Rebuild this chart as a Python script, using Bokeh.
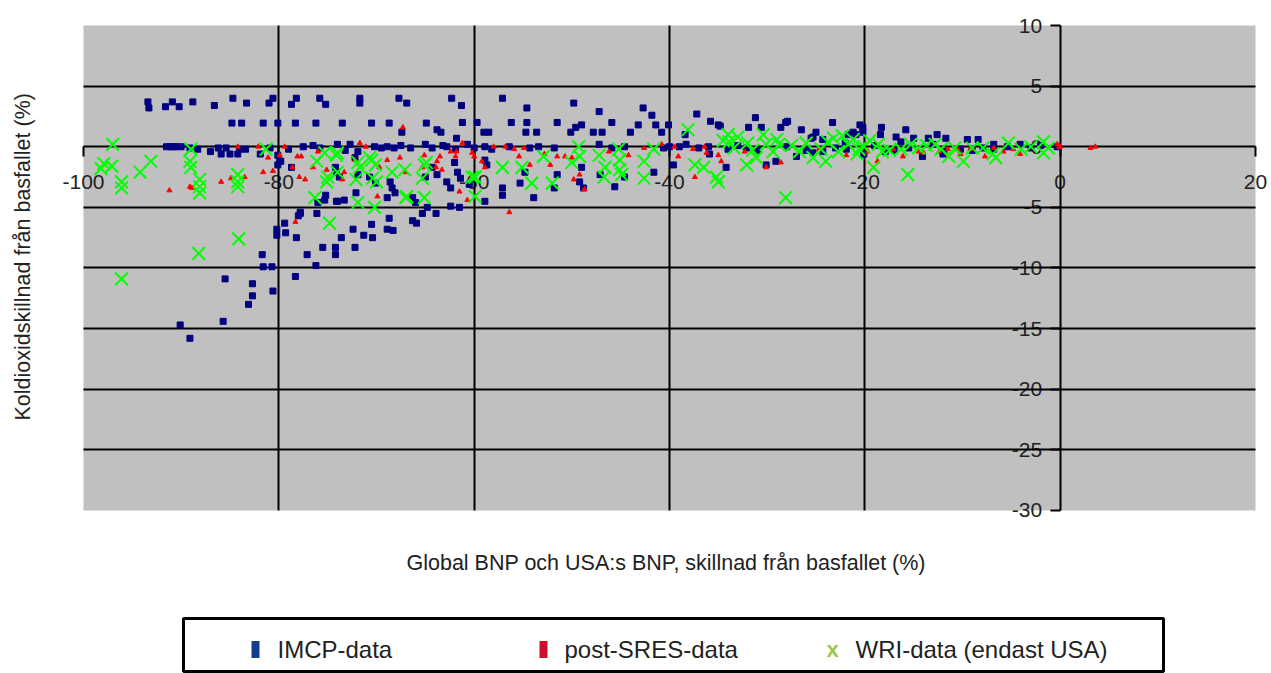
from bokeh.plotting import figure
from bokeh.models import LinearAxis, FixedTicker, Title, ColumnDataSource, Range1d, BoxAnnotation
from bokeh.layouts import column
from bokeh.embed import file_html
from bokeh.resources import INLINE
from bokeh.core.properties import value

# ---------------- data ----------------
imcp_points = [
    (-93.4, 3.7), (-93.3, 3.2), (-91.6, 3.3), (-90.9, 3.7), (-90.2, 3.3), (-88.8, 3.7), (-86.6, 3.4),
    (-84.7, 4.0), (-83.3, 3.6), (-81.0, 3.6), (-80.6, 4.0), (-78.7, 3.5), (-78.2, 4.0), (-75.8, 4.0),
    (-75.2, 3.5), (-71.7, 4.0), (-71.7, 3.6), (-67.7, 4.0), (-66.9, 3.6), (-62.3, 4.0), (-61.3, 3.4),
    (-84.8, 1.95), (-83.8, 1.95), (-81.6, 1.95), (-80.1, 1.95), (-78.3, 1.95), (-76.2, 1.95), (-73.5, 1.95),
    (-70.5, 1.95), (-68.7, 1.95), (-64.9, 1.95), (-67.4, 1.2), (-63.8, 1.4), (-63.4, 1.2), (-61.8, 0.7),
    (-59.7, 2.0), (-57.1, 4.0), (-54.6, 3.2), (-49.8, 3.6), (-47.2, 2.9), (-42.7, 3.2), (-41.8, 2.6),
    (-37.2, 2.7), (-35.8, 2.1), (-31.2, 2.4), (-27.9, 2.1), (-23.3, 2.0), (-20.5, 1.8),
    (-61.2, 2.0), (-59.0, 1.2), (-58.5, 1.2), (-56.2, 2.0), (-54.6, 2.0), (-54.7, 1.2), (-53.6, 1.2),
    (-51.5, 2.0), (-50.1, 1.2), (-49.6, 1.6), (-49.0, 1.8), (-47.8, 1.2), (-46.9, 1.2), (-45.9, 2.0),
    (-44.0, 1.2), (-43.2, 1.8), (-41.4, 1.8), (-40.8, 1.2), (-40.1, 1.8), (-38.4, 1.0), (-34.8, 1.7),
    (-31.9, 1.6), (-30.6, 1.6), (-28.6, 1.6), (-26.5, 1.4), (-25.0, 1.2), (-25.5, 0.7), (-24.3, 0.6),
    (-21.7, 1.0), (-21.2, 1.2), (-20.2, 1.2), (-35.0, 1.8), (-28.1, 2.0), (-25.3, 0.8), (-20.9, 1.0),
    (-20.2, 1.6), (-18.3, 1.6), (-18.4, 1.0), (-16.8, 0.8), (-15.8, 1.4), (-16.3, 0.4), (-15.0, 0.7),
    (-13.5, 0.7), (-12.6, 1.0), (-11.7, 0.7), (-9.5, 0.6), (-8.4, 0.6), (-6.8, 0.2), (-5.4, 0.0),
    (-4.1, 0.2), (-0.3, 0.0),
    (-91.5, 0.0), (-90.8, 0.0), (-90.0, 0.0), (-91.1, 0.0), (-90.5, 0.0), (-89.1, -0.1), (-88.3, -0.2),
    (-87.0, -0.4), (-86.2, -0.1), (-85.9, -0.6), (-85.4, -0.1), (-85.0, -0.6), (-84.2, -0.6), (-84.0, -0.2),
    (-83.4, -0.2), (-81.9, -0.6), (-80.9, -0.1), (-80.1, -1.5), (-79.8, -1.2),
    (-79.0, -0.2), (-77.5, 0.0), (-76.5, 0.1), (-75.8, -0.1), (-73.2, -0.3), (-69.5, -0.1), (-67.5, 0.1),
    (-63.2, 0.1), (-60.0, -0.1),
    (-74.0, 0.2), (-72.7, 0.2), (-71.9, -0.4), (-70.2, 0.0), (-68.9, 0.0), (-68.2, -0.1), (-66.5, -0.1),
    (-65.0, 0.2), (-64.3, -0.1), (-62.8, 0.0), (-61.9, -0.2), (-60.7, 0.2),
    (-74.2, -1.7), (-73.8, -2.5), (-72.2, -0.9), (-71.9, -2.3), (-72.1, -3.8), (-73.3, -4.4), (-74.0, -4.5),
    (-75.2, -4.0), (-75.3, -4.4), (-70.7, -2.5), (-70.1, -3.0), (-68.6, -2.9), (-68.4, -3.4), (-68.1, -3.8),
    (-68.9, -4.2), (-65.0, -2.5), (-64.3, -1.7), (-63.8, -2.3), (-62.8, -2.9), (-62.4, -3.4), (-62.0, -1.3),
    (-61.7, -2.1), (-61.4, -2.6), (-60.5, -3.1), (-66.3, -4.2), (-66.0, -4.6), (-76.0, -4.6), (-80.1, -0.7),
    (-77.8, -5.4), (-78.7, -1.7), (-79.9, -1.2), (-74.1, -2.1),
    (-58.9, 0.0), (-58.2, -0.2), (-56.4, 0.0), (-54.3, -0.1), (-53.4, 0.0), (-51.8, -0.1), (-47.2, 0.2),
    (-45.9, -0.1), (-44.6, 0.0), (-40.6, -0.1), (-58.9, -1.1), (-58.7, -1.5), (-57.1, -3.4), (-57.1, -4.0),
    (-55.3, -3.0), (-54.8, -2.1), (-53.9, -4.2), (-51.5, -2.3), (-51.8, -3.4), (-49.2, -2.9), (-49.0, -1.7),
    (-48.8, -3.4), (-47.1, -2.3), (-45.6, -3.3), (-44.6, -2.5), (-41.6, -2.1), (-58.9, -4.5),
    (-40.0, 0.0), (-38.3, 0.2), (-37.0, -0.1), (-35.9, -0.6), (-39.6, -1.5), (-34.2, -1.7), (-32.1, -0.1),
    (-30.1, -1.5), (-29.1, -1.2), (-27.0, -0.8), (-25.3, -0.5), (-24.3, -0.4), (-21.9, -0.2),
    (-39.0, 0.0), (-36.0, 0.0), (-34.0, -0.2), (-33.0, 0.1), (-31.0, -0.3), (-28.0, 0.0), (-26.0, -0.3),
    (-23.0, -0.1), (-22.0, 0.3), (-19.0, 0.1), (-17.0, -0.3), (-15.5, -0.1), (-13.0, 0.2), (-12.0, -0.6),
    (-9.0, -0.3), (-3.0, -0.1), (-2.0, 0.1),
    (-20.1, -0.6), (-17.9, -0.4), (-14.1, -0.8), (-11.9, -0.4), (-10.2, -0.2), (-7.9, -0.1), (-6.8, -0.2),
    (-81.7, -8.9), (-81.6, -9.9), (-80.7, -9.9), (-85.5, -10.9), (-82.7, -11.3), (-82.7, -12.3), (-83.1, -13.0),
    (-80.6, -11.9), (-85.7, -14.4), (-90.1, -14.7), (-89.1, -15.8), (-78.3, -10.7), (-79.3, -7.1), (-79.4, -6.3),
    (-80.2, -6.8), (-80.2, -7.3), (-78.2, -7.5), (-77.1, -8.9), (-76.2, -9.8), (-76.1, -5.5), (-75.5, -8.3),
    (-74.2, -8.3), (-74.2, -8.9), (-73.6, -7.5), (-72.4, -6.8), (-72.2, -8.3), (-71.3, -7.3), (-70.5, -6.4),
    (-70.4, -7.5), (-68.7, -5.9), (-68.9, -6.8), (-68.3, -6.9), (-66.3, -6.1), (-65.9, -6.3), (-65.3, -5.5),
    (-64.8, -5.0), (-63.9, -5.5), (-62.4, -4.9), (-61.5, -5.0), (-78.0, -5.7), (-77.8, -5.5), (-74.1, -4.5),
]

post_sres_points = [
    (-84.2, 0.0), (-85.9, -2.9), (-91.2, -3.6), (-89.1, -3.3), (-83.5, -2.5), (-81.6, -2.1), (-80.6, -2.0),
    (-82.1, 0.0), (-81.1, -0.9), (-88.9, -3.4), (-84.9, -2.6), (-79.4, 0.0), (-77.7, -0.8), (-77.3, -2.7),
    (-76.5, -1.7), (-75.1, -1.9), (-73.5, -2.7), (-72.2, -1.1), (-71.7, 0.3), (-68.9, -1.1), (-67.3, 1.6),
    (-63.9, -1.7), (-63.3, -1.9), (-61.8, -0.4), (-61.2, 0.3), (-60.2, -0.5), (-60.2, -2.5),
    (-79.9, -0.7), (-78.1, -0.8), (-76.0, -0.4), (-78.6, -1.7), (-77.9, -2.5), (-73.3, -2.1), (-71.1, 0.0),
    (-69.7, -1.7), (-67.6, -0.9), (-67.0, -2.1), (-65.1, -0.7), (-63.8, -1.2), (-63.5, -0.8), (-62.4, -0.4),
    (-61.9, -0.8), (-61.5, -3.7), (-60.7, -4.4), (-65.3, -1.7), (-69.9, -4.1), (-78.3, -6.2),
    (-60.0, -0.8), (-59.2, -1.2), (-58.0, 0.0), (-56.8, 0.0), (-55.9, -0.2), (-54.9, -0.1), (-55.4, -0.8),
    (-54.3, -1.5), (-52.8, -0.6), (-52.2, -1.5), (-51.5, -0.8), (-50.7, -0.8), (-50.0, -0.9), (-49.2, -2.3),
    (-48.7, -3.5), (-46.2, -0.4), (-44.2, -0.7), (-42.6, -0.1), (-40.8, 0.2), (-56.4, -5.4), (-58.9, -1.7),
    (-49.8, -2.7),
    (-39.5, 0.0), (-39.1, -0.8), (-37.6, -0.2), (-36.4, 0.0), (-36.2, -0.5), (-35.0, -0.7), (-34.7, -1.2),
    (-37.4, -2.5), (-32.3, -0.4), (-30.1, -1.7), (-28.6, -1.3), (-24.7, -0.2), (-21.9, -0.7),
    (-19.7, -0.4), (-18.7, -1.2), (-17.1, -0.2), (-16.1, -0.8), (-14.5, -0.4), (-14.0, -0.5), (-12.4, -0.4),
    (-11.5, -0.2), (-10.5, -0.2), (-10.2, -0.6), (-9.2, -0.2), (-7.7, -0.8), (-6.8, -0.1), (-5.8, -0.4),
    (-4.8, -0.2), (-4.1, -0.6), (-0.3, 0.2), (0.0, 0.0), (3.6, 0.0), (3.1, -0.1), (-0.1, 0.0),
]

wri_points = [
    (-97.0, 0.2), (-97.9, -1.4), (-97.1, -1.6), (-98.2, -1.8), (-96.1, -2.9), (-96.1, -3.4), (-94.2, -2.1),
    (-93.1, -1.2), (-89.0, -0.2), (-89.1, -1.2), (-89.0, -1.7), (-88.1, -2.7), (-88.1, -3.3), (-88.1, -3.8),
    (-84.2, -2.3), (-84.2, -2.9), (-84.2, -3.3), (-81.3, -0.2),
    (-96.1, -10.9), (-88.2, -8.8), (-84.1, -7.6), (-74.8, -6.3),
    (-76.1, -1.2), (-75.3, -0.5), (-74.1, -0.7), (-75.0, -2.5), (-75.1, -2.9), (-76.3, -4.2), (-71.7, -1.7),
    (-70.5, -1.1), (-70.4, -2.6), (-70.0, -2.9), (-70.2, -5.0), (-71.9, -4.6), (-67.1, -1.9), (-66.9, -4.1),
    (-64.9, -1.3), (-65.3, -2.6), (-60.2, -2.5),
    (-74.0, -0.5), (-74.0, -2.1), (-71.9, -1.3), (-72.1, -2.7), (-70.7, -0.9), (-70.1, -1.5), (-68.4, -2.1),
    (-65.1, -1.5), (-65.1, -4.2), (-67.0, -4.2),
    (-59.9, -2.5), (-59.9, -4.1), (-57.1, -1.7), (-55.1, -1.7), (-54.1, -3.0), (-52.9, -0.8), (-52.0, -3.0),
    (-50.0, -1.3), (-49.3, 0.0), (-49.2, -0.8), (-47.2, -0.7), (-46.7, -2.5), (-46.6, -1.7), (-45.2, -0.2),
    (-45.1, -1.1), (-45.1, -1.9), (-44.9, -2.3), (-42.6, -1.2), (-42.6, -2.6), (-41.6, -0.2),
    (-38.1, 1.4), (-35.0, -2.9),
    (-37.4, -1.5), (-36.5, -1.7), (-35.2, -2.5), (-34.0, 1.0), (-33.9, 0.4), (-33.4, -0.1), (-32.1, -1.5),
    (-31.1, -0.9), (-30.4, 1.0), (-30.1, 0.2), (-29.4, -0.4), (-28.8, 0.2), (-28.1, -4.2), (-26.7, -0.4),
    (-25.3, -0.9), (-24.0, -1.2), (-23.2, 0.7), (-22.7, -0.4), (-21.7, 0.2), (-20.6, -0.2),
    (-34.5, 0.5), (-33.0, 0.8), (-32.0, 0.3), (-31.5, -0.3), (-29.0, 0.6), (-27.5, 0.1), (-26.0, 0.3),
    (-24.5, -0.2), (-23.8, 0.4), (-22.3, 0.9), (-21.2, 0.6), (-20.8, -0.6), (-19.5, 0.5), (-17.5, -0.3),
    (-14.5, -0.1), (-13.7, 0.1), (-10.8, -0.1), (-9.0, -0.1), (-4.0, -0.2), (-3.0, 0.0),
    (-20.1, 0.0), (-19.1, -1.7), (-18.6, 0.2), (-18.2, -0.4), (-16.3, -0.2), (-15.6, -2.3), (-15.3, 0.2),
    (-12.8, 0.2), (-12.2, -0.2), (-11.4, -0.8), (-9.9, -1.2), (-7.9, -0.1), (-6.9, -0.6), (-6.6, -0.9),
    (-5.3, 0.3), (-1.7, 0.4), (-1.7, -0.5), (-1.2, -0.1),
]

series_names = ["IMCP-data", "post-SRES-data", "WRI-data (endast USA)"]
x_ticks = [-100, -80, -60, -40, -20, 0, 20]
x_tick_labels = ["-100", "-80", "-60", "-40", "-20", "0", "20"]
y_ticks = [-30, -25, -20, -15, -10, -5, 0, 5, 10]
y_tick_labels = ["-30", "-25", "-20", "-15", "-10", "-5", "0", "5", "10"]
x_grid_ticks = [-80, -60, -40, -20]
y_grid_ticks = [-25, -20, -15, -10, -5, 5]
x_title = "Global BNP och USA:s BNP,  skillnad från basfallet (%)"
y_title = "Koldioxidskillnad från basfallet (%)"

X_MIN, X_MAX = -100, 20
Y_MIN, Y_MAX = -30, 10
FONT = "Liberation Sans"


def src(points):
    xs, ys = zip(*points)
    return ColumnDataSource(dict(x=list(xs), y=list(ys)))


# ---------------- main chart ----------------
# frame is a bit larger than the grey plot area, so that end tick labels are not clipped
p = figure(width=1271, height=615,
           x_range=Range1d(X_MIN - 3.99, X_MAX + 1.23), y_range=Range1d(Y_MIN - 0.91, Y_MAX + 0.99),
           x_axis_location=None, y_axis_location=None,
           output_backend="svg", toolbar_location=None,
           background_fill_color="white", border_fill_color="white",
           outline_line_color=None,
           min_border_left=44, min_border_right=4, min_border_top=13, min_border_bottom=94)

p.add_layout(BoxAnnotation(left=X_MIN, right=X_MAX, bottom=Y_MIN, top=Y_MAX,
                           fill_color="#c0c0c0", fill_alpha=1.0, line_color=None, level="image"))

p.xgrid.ticker = FixedTicker(ticks=x_grid_ticks)
p.ygrid.ticker = FixedTicker(ticks=y_grid_ticks)
p.xgrid.cross_bounds = (Y_MIN, Y_MAX)
p.ygrid.cross_bounds = (X_MIN, X_MAX)
for g in (p.xgrid, p.ygrid):
    g.grid_line_color = "black"
    g.grid_line_width = 2
    g.grid_line_alpha = 1.0

xaxis = LinearAxis(fixed_location=0, ticker=FixedTicker(ticks=x_ticks), bounds=(X_MIN, X_MAX),
                   major_label_overrides={t: s for t, s in zip(x_ticks, x_tick_labels)})
yaxis = LinearAxis(fixed_location=0, ticker=FixedTicker(ticks=y_ticks), bounds=(Y_MIN, Y_MAX),
                   major_label_overrides={t: s for t, s in zip(y_ticks, y_tick_labels)})
for ax in (xaxis, yaxis):
    ax.axis_line_color = "black"
    ax.axis_line_width = 2
    ax.major_tick_line_color = "black"
    ax.major_tick_line_width = 2
    ax.major_tick_out = 10
    ax.major_tick_in = 0
    ax.minor_tick_out = 0
    ax.minor_tick_in = 0
    ax.major_label_text_font = FONT
    ax.major_label_text_font_size = "21px"
    ax.major_label_text_color = "#222222"
    ax.level = "underlay"
xaxis.major_label_standoff = 18
yaxis.major_label_standoff = 8
p.add_layout(xaxis, "below")
p.add_layout(yaxis, "left")

p.scatter("x", "y", source=src(imcp_points), marker="square", size=6,
          fill_color="#000080", line_color="#000080")
p.scatter("x", "y", source=src(post_sres_points), marker="triangle", size=5,
          fill_color="#ff0000", line_color="#ff0000")
p.scatter("x", "y", source=src(wri_points), marker="x", size=18,
          line_color="#00ff00", line_width=2)

p.add_layout(Title(text=x_title, align="left", text_font=FONT, text_font_size="21.5px",
                   text_font_style="normal", text_color="#222222", standoff=55, offset=362), "below")
p.add_layout(Title(text=y_title, align="left", vertical_align="top", text_font=FONT,
                   text_font_size="21.5px", text_font_style="normal", text_color="#222222",
                   standoff=16, offset=101), "left")

# ---------------- legend strip (1 unit = 1 screen pixel) ----------------
leg = figure(width=1271, height=58, x_range=Range1d(44, 1267), y_range=Range1d(0, 58),
             x_axis_location=None, y_axis_location=None,
             output_backend="svg", toolbar_location=None,
             outline_line_color=None, min_border_left=44, min_border_right=4,
             min_border_top=0, min_border_bottom=0)
leg.grid.visible = False
leg.quad(left=[183], right=[1163], top=[55], bottom=[2], fill_color=None,
         line_color="black", line_width=3)
swatch_x = [255, 543]
swatch_colors = ["#123C8C", "#D0102A"]
leg.rect(x=swatch_x, y=[24, 24], width=8, height=17, fill_color=swatch_colors, line_color=None)
leg.text(x=[832], y=[24], text=["x"], text_color="#9BC74A", text_font=value(FONT),
         text_font_size="22px", text_font_style="bold", text_align="center", text_baseline="middle")
leg.text(x=[277, 564, 855], y=[24, 24, 24], text=series_names, text_color="#222222",
         text_font=value(FONT), text_font_size="24px", text_align="left", text_baseline="middle")

layout = column(p, leg, spacing=0)
open("out.html", "w").write(file_html(layout, INLINE))
